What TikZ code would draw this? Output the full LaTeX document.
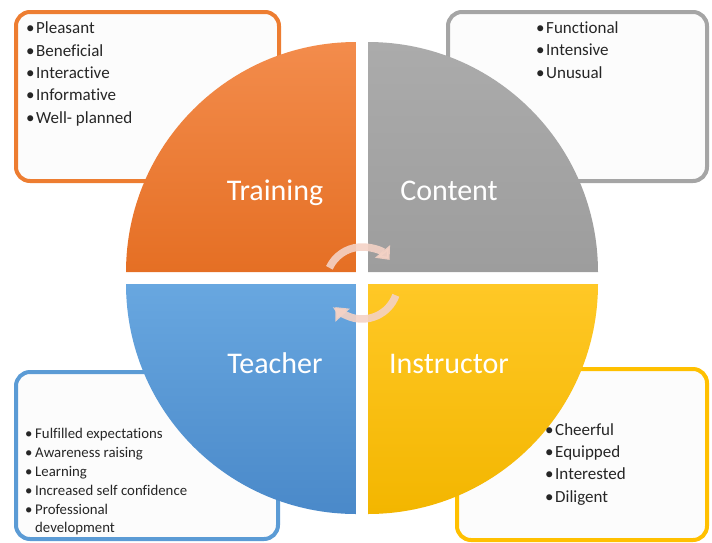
\documentclass[tikz,border=0pt]{standalone}
\usepackage{fontspec}
\setmainfont{Carlito}[Ligatures=NoCommon]
\usetikzlibrary{arrows.meta,calc,positioning}
\definecolor{trainCol}{HTML}{ED7D31}
\definecolor{trainTop}{HTML}{F38C4C}
\definecolor{trainBot}{HTML}{E56F24}
\definecolor{contCol}{HTML}{A5A5A5}
\definecolor{contTop}{HTML}{ABABAB}
\definecolor{contBot}{HTML}{9D9D9D}
\definecolor{teachCol}{HTML}{5B9BD5}
\definecolor{teachTop}{HTML}{68A7E0}
\definecolor{teachBot}{HTML}{4A89C9}
\definecolor{instrCol}{HTML}{FFC000}
\definecolor{instrTop}{HTML}{FFC826}
\definecolor{instrBot}{HTML}{F3B600}
\definecolor{boxFill}{HTML}{FCFCFC}
\definecolor{cycCol}{HTML}{F4D2C5}
\newcommand{\itm}[1]{\makebox[10pt][l]{\textbullet}#1}

\begin{document}
\begin{tikzpicture}[x=1pt,y=-1pt,
  box/.style={draw,line width=4pt,rounded corners=14pt,fill=boxFill,inner sep=0pt},
  list/.style={align=left,inner sep=0pt,anchor=base west,text=black!85,font=\fontsize{17}{22.3}\selectfont},
  part/.style={text=white,anchor=base,inner sep=0pt,font=\fontsize{30}{36}\selectfont},
  cycarrow/.style={cycCol,opacity=0.9,line width=7.5pt,-{Triangle[width=19pt,length=11pt]}}]
\useasboundingbox (0,0) rectangle (712,542);
\node [box,draw=trainCol,minimum width=263pt,minimum height=169pt] (TrainingBox) at (147.5,96.5) {};
\node [box,draw=contCol,minimum width=259pt,minimum height=169pt] (ContentBox) at (577.5,96.5) {};
\node [box,draw=teachCol,minimum width=262pt,minimum height=167pt] (TeacherBox) at (147,455.5) {};
\node [box,draw=instrCol,minimum width=250pt,minimum height=171pt] (InstructorBox) at (582,454.5) {};
\coordinate (TrainingC) at (356,272);
\coordinate (ContentC) at (368,272);
\coordinate (TeacherC) at (356,284);
\coordinate (InstructorC) at (368,284);
\shade [top color=trainTop,bottom color=trainBot] (TrainingC) -- ++(-230,0) arc[start angle=180,end angle=270,radius=230] -- cycle;
\shade [top color=contTop,bottom color=contBot] (ContentC) -- ++(0,-230) arc[start angle=270,end angle=360,radius=230] -- cycle;
\shade [top color=teachTop,bottom color=teachBot] (TeacherC) -- ++(-230,0) arc[start angle=180,end angle=90,radius=230] -- cycle;
\shade [top color=instrTop,bottom color=instrBot] (InstructorC) -- ++(230,0) arc[start angle=0,end angle=90,radius=230] -- cycle;
\node [part] (Training) at (275,200) {Training};
\node [part] (Content) at (449,200) {Content};
\node [part] (Teacher) at (275,373) {Teacher};
\node [part] (Instructor) at (449,373) {Instructor};
\node [list] (TrainingList) at (26,123) {\itm{Pleasant}\\\itm{Beneficial}\\\itm{Interactive}\\\itm{Informative}\\\itm{Well- planned}};
\node [list] (ContentList) at (536,78) {\itm{Functional}\\\itm{Intensive}\\\itm{Unusual}};
\node [list,font=\fontsize{14.8}{19}\selectfont] (TeacherList) at (25,532) {\itm{Fulfilled expectations}\\\itm{Awareness raising}\\\itm{Learning}\\\itm{Increased self confidence}\\\itm{Professional}\\[-1pt]\hspace*{10pt}development};
\node [list] (InstructorList) at (545,502) {\itm{Cheerful}\\\itm{Equipped}\\\itm{Interested}\\\itm{Diligent}};
\coordinate (Cycle) at (362,283);
\draw [cycarrow] ([shift={(-155:36)}]Cycle) arc[start angle=-155,end angle=-40,radius=36];
\draw [cycarrow] ([shift={(20:36)}]Cycle) arc[start angle=20,end angle=138,radius=36];
\end{tikzpicture}
\end{document}
